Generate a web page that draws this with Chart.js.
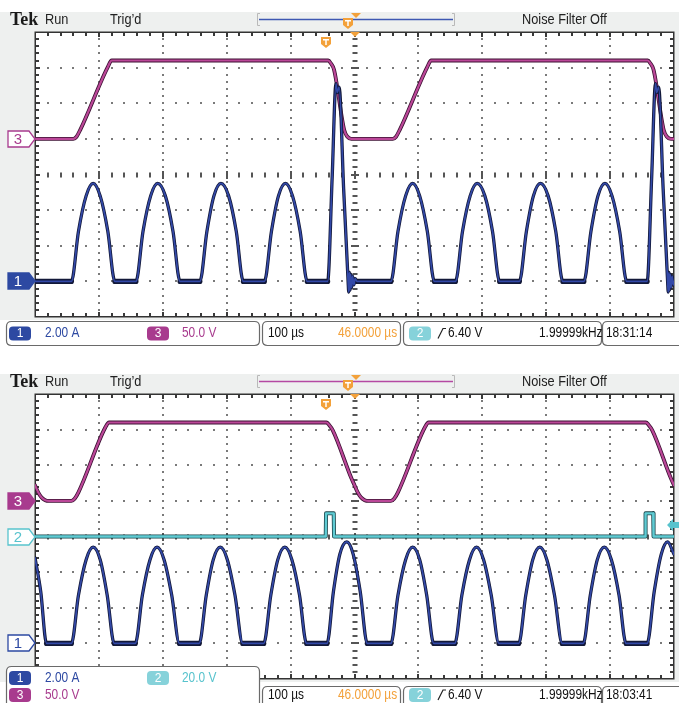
<!DOCTYPE html>
<html>
<head>
<meta charset="utf-8">
<script src="https://cdn.jsdelivr.net/npm/chart.js@4.4.1/dist/chart.umd.min.js"></script>
<style>
  html, body { margin: 0; padding: 0; background: #ffffff; }
  #wrap { position: relative; width: 679px; height: 703px; overflow: hidden; }
  .panel { position: absolute; left: 0; width: 679px; }
  #p1 { top: 0; height: 352px; }
  #p2 { top: 360px; height: 343px; }
  canvas { display: block; }
</style>
</head>
<body>
<div id="wrap">
  <div class="panel" id="p1"><canvas id="c1" width="679" height="352"></canvas></div>
  <div class="panel" id="p2"><canvas id="c2" width="679" height="343"></canvas></div>
</div>
<script>
// ---------------------------------------------------------------
// Time base: 10 divisions x 100 µs, screen time in µs
// ---------------------------------------------------------------
const TIME_RANGE = [0, 1000];

// Vertical settings per channel (units per division) and trace offset in divisions
const CH1_PER_DIV = 2.0;   // A
const CH2_PER_DIV = 20.0;  // V
const CH3_PER_DIV = 50.0;  // V
const CH1_OFFSET = -3;
const CH2_OFFSET = 0;
const CH3_OFFSET = 1;
const TRIGGER_TIME = 454;  // µs on screen
const TRIGGER_LEVEL = 6.4; // V on Ch2

// Upper capture, Ch3 voltage [µs, V]
const upperCh3 = [
  [0, 0], [60, 0], [65, 3], [71, 13], [114, 101], [120, 110],
  [459, 110], [463, 106], [468, 97], [484, 12], [489, 3], [495, 0],
  [560, 0], [565, 3], [571, 13], [614, 101], [620, 110],
  [959, 110], [963, 106], [968, 97], [984, 12], [989, 3], [995, 0], [1000, 0]
];

// Upper capture, Ch1 current [µs, A]
const upperCh1 = [
  [0, 0], [57, 0], [68, 2.8], [80, 4.8], [91, 5.5], [102, 4.8], [114, 2.8], [125, 0],
  [158, 0], [169, 2.8], [181, 4.8], [192, 5.5], [204, 4.8], [216, 2.8], [227, 0],
  [258, 0], [269, 2.8], [280, 4.8], [291, 5.5], [303, 4.8], [315, 2.8], [326, 0],
  [359, 0], [370, 2.8], [381, 4.8], [392, 5.5], [403, 4.8], [415, 2.8], [426, 0],
  [458, 0], [465, 5.8], [471, 11.1], [473, 10.6], [476, 10.9], [483, 5.2], [490, 0],
  [491, -0.6], [492, 0.5], [493, -0.5], [494, 0.4], [495.5, -0.35], [497, 0.3], [499, -0.2], [501, 0.15], [504, 0],
  [557, 0], [568, 2.8], [580, 4.8], [591, 5.5], [602, 4.8], [614, 2.8], [625, 0],
  [658, 0], [669, 2.8], [681, 4.8], [692, 5.5], [704, 4.8], [716, 2.8], [727, 0],
  [758, 0], [769, 2.8], [780, 4.8], [791, 5.5], [803, 4.8], [815, 2.8], [826, 0],
  [859, 0], [870, 2.8], [881, 4.8], [892, 5.5], [903, 4.8], [915, 2.8], [926, 0],
  [958, 0], [965, 5.8], [971, 11.1], [973, 10.6], [976, 10.9], [983, 5.2], [990, 0],
  [991, -0.6], [992, 0.5], [993, -0.5], [994, 0.4], [995.5, -0.35], [997, 0.3], [999, -0.2], [1000, 0]
];

// Lower capture, Ch3 voltage [µs, V]
const lowerCh3 = [
  [0, 22], [5, 12], [10, 5], [16, 1], [22, 0], [57, 0], [62, 3], [68, 12], [110, 103], [116, 110],
  [456, 110], [460, 107], [466, 99], [495, 32], [500, 22], [505, 12], [510, 5], [516, 1], [522, 0],
  [557, 0], [562, 3], [568, 12], [610, 103], [616, 110],
  [956, 110], [960, 107], [966, 99], [995, 32], [1000, 22]
];

// Lower capture, Ch2 voltage [µs, V]
const lowerCh2 = [
  [0, 0], [455, 0], [455.5, 13], [467.5, 13], [468, 0],
  [955, 0], [955.5, 13], [967.5, 13], [968, 0], [1000, 0]
];

// Lower capture, Ch1 current [µs, A]
const lowerCh1 = [
  [0, 4.8], [9, 2.9], [18, 0], [57, 0], [68, 2.7], [80, 4.7], [91, 5.4], [102, 4.7], [113, 2.7], [124, 0],
  [157, 0], [168, 2.7], [180, 4.7], [191, 5.4], [202, 4.7], [214, 2.7], [226, 0],
  [257, 0], [268, 2.7], [279, 4.7], [290, 5.4], [301, 4.7], [313, 2.7], [325, 0],
  [358, 0], [369, 2.7], [380, 4.7], [391, 5.4], [402, 4.7], [414, 2.7], [425, 0],
  [457, 0], [467, 2.9], [477, 5.0], [488, 5.7], [498, 5.0], [509, 2.9], [520, 0],
  [557, 0], [568, 2.7], [580, 4.7], [591, 5.4], [602, 4.7], [613, 2.7], [624, 0],
  [657, 0], [668, 2.7], [680, 4.7], [691, 5.4], [702, 4.7], [714, 2.7], [726, 0],
  [757, 0], [768, 2.7], [779, 4.7], [790, 5.4], [801, 4.7], [813, 2.7], [825, 0],
  [858, 0], [869, 2.7], [880, 4.7], [891, 5.4], [902, 4.7], [914, 2.7], [925, 0],
  [958, 0], [969, 2.9], [980, 5.0], [990, 5.7], [1000, 5.0]
];

// ---------------------------------------------------------------
// Colours
// ---------------------------------------------------------------
const BLUE = '#2d49a2', BLUE_TRACE = '#3349a8', BLUE_EDGE = '#121838';
const MAG = '#a83b8e', MAG_TRACE = '#bb4798', MAG_EDGE = '#3c1133';
const CYAN = '#58c3cd', CYAN_TRACE = '#5fcbd3', CYAN_EDGE = '#1c464b';
const CYAN_BADGE = '#86d2da';
const ORANGE = '#f3a13a';
const PANEL_GREY = '#eef0ef';

// ---------------------------------------------------------------
// Helpers
// ---------------------------------------------------------------
function axisFor(perDiv, offset) {
  return { type: 'linear', display: false, min: (-4 - offset) * perDiv, max: (4 - offset) * perDiv };
}

// each channel is drawn as a coloured core over a darker, slightly wider edge;
// flat stretches get a wider edge to show the baseline noise band
function trace(points, core, edge, width, order, axis, smooth, noisyFlats) {
  const base = {
    yAxisID: axis, pointRadius: 0, fill: false,
    borderJoinStyle: 'round', borderCapStyle: 'round',
    tension: smooth ? 0.3 : 0,
    cubicInterpolationMode: smooth ? 'monotone' : 'default'
  };
  const edgeSet = Object.assign({}, base, {
    data: points.map(p => ({ x: p[0], y: p[1] })), borderColor: edge, borderWidth: width + 1.6, order: order + 1
  });
  if (noisyFlats) {
    edgeSet.segment = {
      borderWidth: c => (c.p0.parsed.y === 0 && c.p1.parsed.y === 0) ? width + 3.4 : width + 1.6
    };
  }
  return [
    Object.assign({}, base, { data: points.map(p => ({ x: p[0], y: p[1] })), borderColor: core, borderWidth: width, order: order }),
    edgeSet
  ];
}

function txt(ctx, s, x, y, color, size, sx, weight, family) {
  ctx.save();
  ctx.translate(x, y);
  ctx.scale(sx || 0.85, 1);
  ctx.fillStyle = color;
  ctx.font = (weight || 'normal') + ' ' + (size || 14) + 'px ' + (family || '"Liberation Sans", Arial, sans-serif');
  ctx.textBaseline = 'middle';
  ctx.fillText(s, 0, 0);
  ctx.restore();
}

function roundRect(ctx, x, y, w, h, r) {
  ctx.beginPath();
  ctx.moveTo(x + r, y);
  ctx.lineTo(x + w - r, y);
  ctx.quadraticCurveTo(x + w, y, x + w, y + r);
  ctx.lineTo(x + w, y + h - r);
  ctx.quadraticCurveTo(x + w, y + h, x + w - r, y + h);
  ctx.lineTo(x + r, y + h);
  ctx.quadraticCurveTo(x, y + h, x, y + h - r);
  ctx.lineTo(x, y + r);
  ctx.quadraticCurveTo(x, y, x + r, y);
  ctx.closePath();
}

function box(ctx, x0, y0, x1, y1) {
  roundRect(ctx, x0 + 0.5, y0 + 0.5, x1 - x0 - 1, y1 - y0 - 1, 5);
  ctx.fillStyle = '#ffffff';
  ctx.fill();
  ctx.strokeStyle = '#6a6a6a';
  ctx.lineWidth = 1.2;
  ctx.stroke();
}

function badge(ctx, n, x, yc, fill) {
  roundRect(ctx, x, yc - 7, 22, 14, 4);
  ctx.fillStyle = fill;
  ctx.fill();
  ctx.save();
  ctx.fillStyle = '#ffffff';
  ctx.font = '12px "Liberation Sans", Arial, sans-serif';
  ctx.textAlign = 'center';
  ctx.textBaseline = 'middle';
  ctx.fillText(n, x + 11, yc + 0.5);
  ctx.restore();
}

function channelMarker(ctx, n, yc, color, filled) {
  const x0 = 8, x1 = 35, h = 8;
  ctx.beginPath();
  ctx.moveTo(x0, yc - h);
  ctx.lineTo(x1 - 6, yc - h);
  ctx.lineTo(x1, yc);
  ctx.lineTo(x1 - 6, yc + h);
  ctx.lineTo(x0, yc + h);
  ctx.closePath();
  ctx.fillStyle = filled ? color : '#ffffff';
  ctx.fill();
  ctx.strokeStyle = color;
  ctx.lineWidth = 1.3;
  ctx.stroke();
  ctx.save();
  ctx.fillStyle = filled ? '#ffffff' : color;
  ctx.font = '15px "Liberation Sans", Arial, sans-serif';
  ctx.textAlign = 'center';
  ctx.textBaseline = 'middle';
  ctx.fillText(n, 18, yc + 0.5);
  ctx.restore();
}

function triggerShield(ctx, xc, ytop) {
  ctx.beginPath();
  ctx.moveTo(xc - 5, ytop);
  ctx.lineTo(xc + 5, ytop);
  ctx.lineTo(xc + 5, ytop + 7);
  ctx.lineTo(xc, ytop + 11);
  ctx.lineTo(xc - 5, ytop + 7);
  ctx.closePath();
  ctx.fillStyle = ORANGE;
  ctx.fill();
  ctx.fillStyle = '#ffffff';
  ctx.fillRect(xc - 3, ytop + 2, 6, 1.5);
  ctx.fillRect(xc - 0.75, ytop + 2, 1.5, 6);
}

function downTriangle(ctx, xc, ytop) {
  ctx.beginPath();
  ctx.moveTo(xc - 5, ytop);
  ctx.lineTo(xc + 5, ytop);
  ctx.lineTo(xc, ytop + 5);
  ctx.closePath();
  ctx.fillStyle = ORANGE;
  ctx.fill();
}

function edgeSymbol(ctx, x, yc) {
  ctx.save();
  ctx.strokeStyle = '#222';
  ctx.lineWidth = 1.2;
  ctx.beginPath();
  ctx.moveTo(x, yc + 5);
  ctx.lineTo(x + 5, yc - 5);
  ctx.lineTo(x + 8, yc - 5);
  ctx.stroke();
  ctx.restore();
}

// ---------------------------------------------------------------
// Scope screen plugin: bezel, header, graticule, readouts, markers
// ---------------------------------------------------------------
const scopeScreen = {
  id: 'scopeScreen',
  beforeDraw(chart, args, o) {
    const ctx = chart.ctx, a = chart.chartArea, W = chart.width, H = chart.height;
    ctx.save();
    ctx.fillStyle = '#ffffff';
    ctx.fillRect(0, 0, W, H);
    // grey bezel around the screen
    ctx.fillStyle = PANEL_GREY;
    ctx.fillRect(0, a.top - 20, W, a.bottom - a.top + 23);

    // header line
    const hy = a.top - 12;
    txt(ctx, 'Tek', 10, hy + 0.5, '#1a1a1a', 18, 1, 'bold', '"Liberation Serif", "Times New Roman", serif');
    txt(ctx, 'Run', 45, hy, '#222', 15, 0.85);
    txt(ctx, 'Trig’d', 110, hy, '#222', 15, 0.85);
    txt(ctx, 'Noise Filter Off', 522, hy, '#222', 15, 0.85);

    // record overview bracket
    ctx.strokeStyle = '#b9b9b9';
    ctx.lineWidth = 1;
    ctx.beginPath();
    ctx.moveTo(260, hy - 6.5); ctx.lineTo(257.5, hy - 6.5); ctx.lineTo(257.5, hy + 5.5); ctx.lineTo(260, hy + 5.5);
    ctx.moveTo(452, hy - 6.5); ctx.lineTo(454.5, hy - 6.5); ctx.lineTo(454.5, hy + 5.5); ctx.lineTo(452, hy + 5.5);
    ctx.stroke();
    ctx.strokeStyle = o.recordColor;
    ctx.lineWidth = 1.5;
    ctx.beginPath();
    ctx.moveTo(259, hy - 0.5); ctx.lineTo(453, hy - 0.5);
    ctx.stroke();
    downTriangle(ctx, 356, hy - 7);
    triggerShield(ctx, 348, hy - 2);

    // readout boxes
    if (o.layout === 'single') {
      const y0 = a.bottom + 4, y1 = y0 + 25, yc = (y0 + y1) / 2;
      box(ctx, 6, y0, 260, y1);
      badge(ctx, '1', 9, yc, BLUE);
      txt(ctx, '2.00 A', 45, yc, BLUE, 14);
      badge(ctx, '3', 147, yc, MAG);
      txt(ctx, '50.0 V', 182, yc, MAG, 14);
      box(ctx, 262, y0, 401, y1);
      txt(ctx, '100 µs', 268, yc, '#111', 14);
      txt(ctx, '46.0000 µs', 338, yc, ORANGE, 14);
      box(ctx, 403, y0, 602, y1);
      badge(ctx, '2', 409, yc, CYAN_BADGE);
      edgeSymbol(ctx, 438, yc);
      txt(ctx, '6.40 V', 448, yc, '#111', 14);
      txt(ctx, '1.99999kHz', 539, yc, '#111', 14);
      box(ctx, 602, y0, 690, y1);
      txt(ctx, o.clock, 606, yc, '#111', 14);
    }
  },
  beforeDatasetsDraw(chart) {
    const ctx = chart.ctx, a = chart.chartArea;
    const L = Math.round(a.left), R = Math.round(a.right), T = Math.round(a.top), B = Math.round(a.bottom);
    const dx = (R - L) / 10, dy = (B - T) / 8;
    ctx.save();
    ctx.fillStyle = '#ffffff';
    ctx.fillRect(L, T, R - L, B - T);
    // dotted division lines
    ctx.fillStyle = '#7a7a7a';
    for (let i = 1; i < 10; i++) {
      if (i === 5) continue;
      const px = Math.round(L + i * dx);
      for (let k = 1; k < 40; k++) ctx.fillRect(px - 1, Math.round(T + k * dy / 5) - 1, 2, 2);
    }
    for (let j = 1; j < 8; j++) {
      if (j === 4) continue;
      const py = Math.round(T + j * dy);
      for (let k = 1; k < 50; k++) ctx.fillRect(Math.round(L + k * dx / 5) - 1, py - 1, 2, 2);
    }
    // centre cross with minor ticks
    ctx.fillStyle = '#555';
    const cx = Math.round(L + 5 * dx), cy = Math.round(T + 4 * dy);
    for (let k = 1; k < 40; k++) {
      const py = Math.round(T + k * dy / 5);
      const len = (k % 5 === 0) ? 8 : 5;
      ctx.fillRect(cx - len / 2, py - 1, len, 2);
    }
    for (let k = 1; k < 50; k++) {
      const px = Math.round(L + k * dx / 5);
      const len = (k % 5 === 0) ? 8 : 5;
      ctx.fillRect(px - 1, cy - len / 2, 2, len);
    }
    // border with inward ticks
    ctx.fillStyle = '#3a3a3a';
    for (let k = 1; k < 50; k++) {
      const px = Math.round(L + k * dx / 5);
      const len = (k % 5 === 0) ? 5 : 4;
      ctx.fillRect(px - 1, T, 2, len);
      ctx.fillRect(px - 1, B - len, 2, len);
    }
    for (let k = 1; k < 40; k++) {
      const py = Math.round(T + k * dy / 5);
      const len = (k % 5 === 0) ? 5 : 4;
      ctx.fillRect(L, py - 1, len, 2);
      ctx.fillRect(R - len, py - 1, len, 2);
    }
    ctx.strokeStyle = '#333';
    ctx.lineWidth = 1.5;
    ctx.strokeRect(L + 0.25, T + 0.25, R - L - 0.5, B - T - 0.5);
    ctx.restore();
  },
  afterDatasetsDraw(chart, args, o) {
    const ctx = chart.ctx, a = chart.chartArea, s = chart.scales;
    ctx.save();
    // trigger position and screen centre marks
    triggerShield(ctx, Math.round(s.x.getPixelForValue(TRIGGER_TIME)) + 1, a.top + 5);
    downTriangle(ctx, Math.round(s.x.getPixelForValue(500)), a.top);
    // channel ground markers
    o.markers.forEach(m => {
      const yc = Math.round(s[m.axis].getPixelForValue(0));
      channelMarker(ctx, m.label, yc, m.color, m.filled);
    });
    // trigger level arrow
    if (o.triggerAxis) {
      const yc = Math.round(s[o.triggerAxis].getPixelForValue(TRIGGER_LEVEL));
      const xr = a.right + 5;
      ctx.beginPath();
      ctx.moveTo(xr - 12, yc);
      ctx.lineTo(xr - 6, yc - 6);
      ctx.lineTo(xr - 6, yc - 3);
      ctx.lineTo(xr, yc - 3);
      ctx.lineTo(xr, yc + 3);
      ctx.lineTo(xr - 6, yc + 3);
      ctx.lineTo(xr - 6, yc + 6);
      ctx.closePath();
      ctx.fillStyle = CYAN;
      ctx.fill();
    }
    // two-row readout for the lower capture, drawn over the screen corner
    if (o.layout === 'double') {
      const H = chart.height;
      box(ctx, 6, H - 37, 260, H + 6);
      const r1 = H - 25, r2 = H - 8;
      badge(ctx, '1', 9, r1, BLUE);
      txt(ctx, '2.00 A', 45, r1, BLUE, 14);
      badge(ctx, '2', 147, r1, CYAN_BADGE);
      txt(ctx, '20.0 V', 182, r1, CYAN, 14);
      badge(ctx, '3', 9, r2, MAG);
      txt(ctx, '50.0 V', 45, r2, MAG, 14);
      const y0 = H - 17, yc = H - 8;
      box(ctx, 262, y0, 401, H + 6);
      txt(ctx, '100 µs', 268, yc, '#111', 14);
      txt(ctx, '46.0000 µs', 338, yc, ORANGE, 14);
      box(ctx, 403, y0, 602, H + 6);
      badge(ctx, '2', 409, yc, CYAN_BADGE);
      edgeSymbol(ctx, 438, yc);
      txt(ctx, '6.40 V', 448, yc, '#111', 14);
      txt(ctx, '1.99999kHz', 539, yc, '#111', 14);
      box(ctx, 602, y0, 690, H + 6);
      txt(ctx, o.clock, 606, yc, '#111', 14);
    }
    ctx.restore();
  }
};

function baseOptions(padding, screenOpts, withCh2) {
  const scales = {
    x: { type: 'linear', display: false, min: TIME_RANGE[0], max: TIME_RANGE[1] },
    y1: axisFor(CH1_PER_DIV, CH1_OFFSET),
    y3: axisFor(CH3_PER_DIV, CH3_OFFSET)
  };
  if (withCh2) scales.y2 = axisFor(CH2_PER_DIV, CH2_OFFSET);
  return {
    responsive: false,
    devicePixelRatio: 1,
    animation: false,
    events: [],
    layout: { padding: padding },
    scales: scales,
    plugins: { legend: { display: false }, tooltip: { enabled: false }, scopeScreen: screenOpts }
  };
}

// Upper capture
new Chart(document.getElementById('c1'), {
  type: 'line',
  data: {
    datasets: [].concat(
      trace(upperCh1, BLUE_TRACE, BLUE_EDGE, 1.7, 0, 'y1', true, true),
      trace(upperCh3, MAG_TRACE, MAG_EDGE, 2.2, 4, 'y3', true, false)
    )
  },
  options: baseOptions({ left: 35, top: 32, right: 5, bottom: 35 }, {
    layout: 'single', clock: '18:31:14', recordColor: '#3e58b2',
    markers: [
      { label: '3', axis: 'y3', color: MAG, filled: false },
      { label: '1', axis: 'y1', color: BLUE, filled: true }
    ]
  }, false),
  plugins: [scopeScreen]
});

// Lower capture
new Chart(document.getElementById('c2'), {
  type: 'line',
  data: {
    datasets: [].concat(
      trace(lowerCh1, BLUE_TRACE, BLUE_EDGE, 1.7, 0, 'y1', true, true),
      trace(lowerCh2, CYAN_TRACE, CYAN_EDGE, 2.4, 2, 'y2', false, false),
      trace(lowerCh3, MAG_TRACE, MAG_EDGE, 2.2, 4, 'y3', true, false)
    )
  },
  options: baseOptions({ left: 35, top: 34, right: 5, bottom: 24 }, {
    layout: 'double', clock: '18:03:41', recordColor: '#b448a2', triggerAxis: 'y2',
    markers: [
      { label: '3', axis: 'y3', color: MAG, filled: true },
      { label: '2', axis: 'y2', color: CYAN, filled: false },
      { label: '1', axis: 'y1', color: BLUE, filled: false }
    ]
  }, true),
  plugins: [scopeScreen]
});
</script>
</body>
</html>
